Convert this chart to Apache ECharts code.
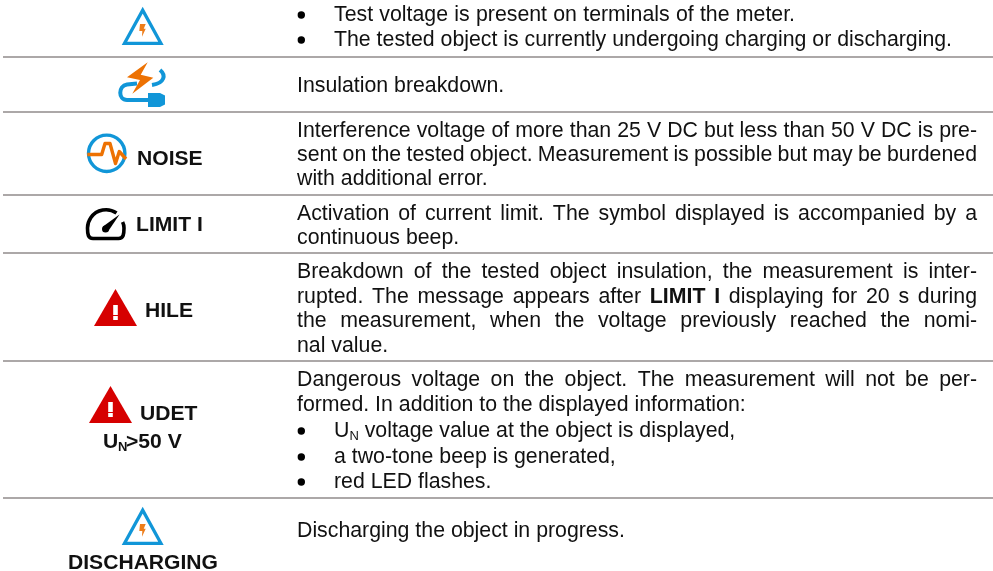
<!DOCTYPE html>
<html><head><meta charset="utf-8">
<style>html,body{margin:0;padding:0;background:#fff}#c{width:993px;height:571px}</style>
<script src="https://cdn.jsdelivr.net/npm/echarts@6/dist/echarts.min.js"></script>
</head><body><div id="c"></div>
<script>
var FONT='"Liberation Sans", Arial, sans-serif', SIZE=21.3, LABEL=21.1, INK='#111111';
var separators=[57,112,195,253,361,498];
var TL=297, BL=334, RIGHT=977;
// [text, baseline, kind]  kind: j justified, p plain, b bullet, u bullet led by U-subscript-N
var descriptionLines=[
 ['Test voltage is present on terminals of the meter.',21,'b',795],
 ['The tested object is currently undergoing charging or discharging.',46,'b',952],
 ['Insulation breakdown.',92,'p'],
 ['Interference voltage of more than 25 V DC but less than 50 V DC is pre-',137,'j'],
 ['sent on the tested object. Measurement is possible but may be burdened',161,'j'],
 ['with additional error.',185,'p'],
 ['Activation of current limit. The symbol displayed is accompanied by a',220,'j'],
 ['continuous beep.',244,'p'],
 ['Breakdown of the tested object insulation, the measurement is inter-',278,'j'],
 ['rupted. The message appears after |LIMIT I| displaying for 20 s during',303,'j'],
 ['the measurement, when the voltage previously reached the nomi-',327,'j'],
 ['nal value.',352,'p'],
 ['Dangerous voltage on the object. The measurement will not be per-',386,'j'],
 ['formed. In addition to the displayed information:',411,'p'],
 ['voltage value at the object is displayed,',437,'u'],
 ['a two-tone beep is generated,',463,'b'],
 ['red LED flashes.',488,'b'],
 ['Discharging the object in progress.',537,'p']
];
// [text, left x, baseline]
var boldLabels=[['NOISE',137,165],['LIMIT I',136,231],['HILE',145,317],['UDET',140,420],['>50 V',126,448],['DISCHARGING',68,569]];

var g=[];
var mc=document.createElement('canvas').getContext('2d');
function w(t,f){mc.font=f;return mc.measureText(t).width;}
function txt(t,x,base,bold,size){size=size||SIZE;
 g.push({type:'text',silent:true,x:x,y:base-0.3465*size+1,style:{text:t,fill:INK,font:(bold?'bold ':'')+size+'px '+FONT,textAlign:'left',verticalAlign:'middle'}});}
function bullet(base){g.push({type:'circle',silent:true,shape:{cx:301.3,cy:base-6,r:3.7},style:{fill:'#000'}});}

separators.forEach(function(y){g.push({type:'rect',silent:true,shape:{x:3,y:y-1,width:990,height:2},style:{fill:'#aca8a8'}});});

var fn=SIZE+'px '+FONT, fb='bold '+SIZE+'px '+FONT;
function justified(t,b,left,right){
 var parts=t.split('|'),words=[];
 parts.forEach(function(p,i){p.trim().split(' ').forEach(function(s){words.push([s,i%2===1]);});});
 var sum=0;words.forEach(function(q){sum+=w(q[0],q[1]?fb:fn);});
 var gap=(right-left-sum)/(words.length-1),x=left;
 words.forEach(function(q){txt(q[0],x,b,q[1]);x+=w(q[0],q[1]?fb:fn)+gap;});
}
descriptionLines.forEach(function(l){
 var t=l[0],b=l[1],k=l[2];
 if(k==='b'){bullet(b);justified(t,b,BL,l[3]||(BL+w(t,fn)));return;}
 if(k==='u'){bullet(b);txt('U',BL,b);var x=BL+w('U',fn);txt('N',x,b+3,false,13);txt(t,x+w('N','13px '+FONT)+w(' ',fn),b);return;}
 if(k==='p'){txt(t,TL,b);return;}
 justified(t,b,TL,RIGHT);
});
boldLabels.forEach(function(l){txt(l[0],l[1],l[2],true,LABEL);});
txt('U',103,448,true,LABEL);txt('N',118,451,true,13);

function blueTri(cx,by){
 g.push({type:'polygon',silent:true,shape:{points:[[cx-18.2,by-1.7],[cx+18.2,by-1.7],[cx,by-34.9]]},style:{fill:'none',stroke:'#1196d8',lineWidth:3.3,lineJoin:'miter'}});
 var ax=cx,ay=by-38.3;
 g.push({type:'polygon',silent:true,shape:{points:[[ax-2.7,ay+17.3],[ax+3,ay+17.3],[ax+1,ay+22],[ax+3,ay+22],[ax-.7,ay+30],[ax-.4,ay+24.3],[ax-3.4,ay+24.3]]},style:{fill:'#ed7d1a'}});
}
function redTri(cx,ay){
 g.push({type:'polygon',silent:true,shape:{points:[[cx-21.5,ay+37],[cx+21.5,ay+37],[cx,ay]]},style:{fill:'#d60000'}});
 g.push({type:'rect',silent:true,shape:{x:cx-2.3,y:ay+16,width:4.6,height:10},style:{fill:'#fff'}});
 g.push({type:'rect',silent:true,shape:{x:cx-2.3,y:ay+27,width:4.6,height:4},style:{fill:'#fff'}});
}
blueTri(142.7,45);
blueTri(142.7,545);
redTri(115.5,289);
redTri(110.5,386);

function pathShape(name,d){echarts.graphic.registerShape(name,echarts.graphic.extendPath(d,{}));return name;}
// plug icon
g.push({type:pathShape('cableIcon','M160 70 C166 75 165 83 152 85 M137 83.5 L127 84.5 C118 86 118 100 127 100 L148 100'),silent:true,style:{fill:'none',stroke:'#1196d8',lineWidth:4}});
g.push({type:'polygon',silent:true,shape:{points:[[148,93],[160,93],[165,95.5],[165,104.5],[160,107],[148,107]]},style:{fill:'#1196d8'}});
g.push({type:'polygon',silent:true,shape:{points:[[147.7,62.3],[127,77.3],[140,80],[132.3,93.7],[153.3,77.7],[140.7,74.7]]},style:{fill:'#ed7203'}});

// noise icon
g.push({type:'circle',silent:true,shape:{cx:106.7,cy:153.3,r:18.2},style:{fill:'none',stroke:'#1196d8',lineWidth:3.4}});
g.push({type:'polyline',silent:true,shape:{points:[[87.3,154.5],[101.7,154.5],[105,143.5],[110,143.5],[115.5,163.5],[119.3,151.5],[126,159]]},style:{fill:'none',stroke:'#ed7203',lineWidth:3.4,lineJoin:'round'}});

// gauge icon
g.push({type:pathShape('gaugeIcon','M116.5 213 A18.5 18.5 0 0 0 87.5 228 C87.5 234 88 238.5 93 238.5 L118.5 238.5 C123.5 238.5 124 234 124 228 C124 226 123.6 224 122.6 222'),silent:true,style:{fill:'none',stroke:'#000',lineWidth:3.6}});
g.push({type:'polygon',silent:true,shape:{points:[[119.5,214.5],[108,231.5],[103,226.5]]},style:{fill:'#000'}});
g.push({type:'circle',silent:true,shape:{cx:105.5,cy:229,r:3.5},style:{fill:'#000'}});

var chart=echarts.init(document.getElementById('c'),null,{renderer:'canvas'});
chart.setOption({animation:false,backgroundColor:'#fff',graphic:{elements:g}});
</script></body></html>
